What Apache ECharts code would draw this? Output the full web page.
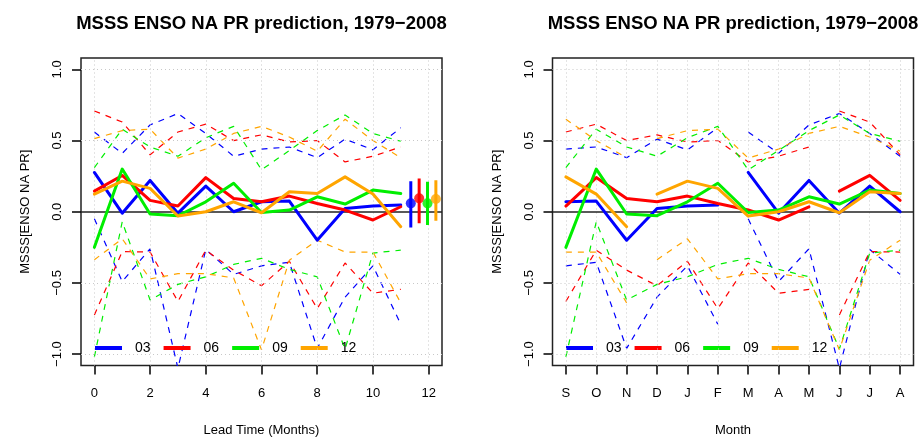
<!DOCTYPE html>
<html>
<head>
<meta charset="utf-8">
<script src="https://cdn.jsdelivr.net/npm/echarts@6/dist/echarts.min.js"></script>
<style>
html, body { margin: 0; padding: 0; background: #ffffff; }
#chart { width: 922px; height: 438px; }
</style>
</head>
<body>
<div id="chart"></div>
<script>
// Forecast lead times (months) and target months (Sep..Aug)
const leads = [0, 1, 2, 3, 4, 5, 6, 7, 8, 9, 10, 11];
const monthLabels = ['S', 'O', 'N', 'D', 'J', 'F', 'M', 'A', 'M', 'J', 'J', 'A'];
const monthPositions = [1, 2, 3, 4, 5, 6, 7, 8, 9, 10, 11, 12];
const leadTicks = [0, 2, 4, 6, 8, 10, 12];
const yTicks = [-1, -0.5, 0, 0.5, 1];

// Forecast start months and where lead 0 falls on the Sep..Aug axis
const startNames = ['03', '06', '09', '12'];
const startPositions = [7, 10, 1, 4];

// MSSS by lead time for each start month
const msss03 = [0.276, -0.01, 0.22, -0.01, 0.18, 0.0, 0.07, 0.075, -0.2, 0.023, 0.04, 0.047];
const msss06 = [0.145, 0.255, 0.08, 0.04, 0.24, 0.093, 0.07, 0.11, 0.058, 0.012, -0.058, 0.035];
const msss09 = [-0.25, 0.3, -0.016, -0.028, 0.07, 0.2, -0.005, 0.012, 0.105, 0.054, 0.152, 0.128];
const msss12 = [0.124, 0.215, 0.164, -0.03, 0.0, 0.07, -0.007, 0.14, 0.128, 0.245, 0.124, -0.105];

// Upper confidence bounds
const upper03 = [0.56, 0.41, 0.61, 0.69, 0.55, 0.39, 0.44, 0.455, 0.38, 0.51, 0.435, 0.59];
const upper06 = [0.708, 0.63, 0.40, 0.56, 0.615, 0.50, 0.54, 0.49, 0.50, 0.35, 0.39, 0.455];
const upper09 = [0.31, 0.58, 0.455, 0.39, 0.52, 0.60, 0.295, 0.43, 0.57, 0.68, 0.55, 0.495];
const upper12 = [0.514, 0.57, 0.58, 0.377, 0.44, 0.55, 0.60, 0.525, 0.425, 0.65, 0.50, 0.38];

// Lower confidence bounds
const lower03 = [-0.05, -0.49, -0.26, -1.1, -0.265, -0.44, -0.38, -0.355, -0.96, -0.6, -0.38, -0.79];
const lower06 = [-0.725, -0.28, -0.283, -0.63, -0.27, -0.41, -0.52, -0.348, -0.68, -0.36, -0.572, -0.545];
const lower09 = [-1.02, -0.07, -0.62, -0.51, -0.457, -0.37, -0.327, -0.405, -0.457, -0.965, -0.29, -0.27];
const lower12 = [-0.337, -0.19, -0.472, -0.435, -0.435, -0.465, -0.97, -0.34, -0.2, -0.283, -0.283, -0.64];

// Lead-averaged MSSS with its spread, drawn to the right of the lead curves
const summaryX = [11.36, 11.66, 11.96, 12.26];
const summaryMean = [0.059, 0.094, 0.059, 0.089];
const summaryLow = [-0.11, -0.08, -0.093, -0.063];
const summaryHigh = [0.214, 0.234, 0.21, 0.222];

const colors = ['#0000FF', '#FF0000', '#00EE00', '#FFA500'];
const msss = [msss03, msss06, msss09, msss12];
const upper = [upper03, upper06, upper09, upper12];
const lower = [lower03, lower06, lower09, lower12];

const FONT = '"Liberation Sans", Arial, Helvetica, sans-serif';
const TITLE = 'MSSS ENSO NA PR prediction, 1979\u22122008';
const fmtY = v => (v < 0 ? '\u2212' : '') + Math.abs(v).toFixed(1);

function byLead(values) {
  return leads.map(k => [k, values[k]]);
}
// Place lead k at its target month; break the line where the year wraps
function byMonth(values, start) {
  const out = [];
  leads.forEach(k => {
    const pos = ((start - 1 + k) % 12) + 1;
    if (k > 0 && pos === 1) out.push(['-', '-']);
    out.push([pos, values[k]]);
  });
  return out;
}

const series = [];
[0, 1].forEach(g => {
  // reference grid and zero line
  const gridLines = yTicks.filter(v => v !== 0).map(v => ({ yAxis: v }))
    .concat((g === 0 ? leadTicks : monthPositions).map(v => ({ xAxis: v })));
  series.push({
    type: 'line', name: 'grid' + g, xAxisIndex: g, yAxisIndex: g, data: [],
    silent: true, z: 1,
    markLine: {
      silent: true, symbol: 'none', label: { show: false }, animation: false,
      lineStyle: { color: '#c8c8c8', width: 1, type: [1, 3] },
      data: gridLines
    }
  });
  series.push({
    type: 'line', name: 'zero' + g, xAxisIndex: g, yAxisIndex: g, data: [],
    silent: true, z: 2,
    markLine: {
      silent: true, symbol: 'none', label: { show: false }, animation: false,
      lineStyle: { color: '#222', width: 1.5, type: 'solid' },
      data: [{ yAxis: 0 }]
    }
  });
  const place = g === 0 ? (v => byLead(v)) : ((v, s) => byMonth(v, s));
  // confidence bounds
  startNames.forEach((nm, i) => {
    [upper[i], lower[i]].forEach((vals, j) => {
      series.push({
        type: 'line', name: nm + (j === 0 ? ' upper' : ' lower'),
        xAxisIndex: g, yAxisIndex: g, z: 3,
        data: place(vals, startPositions[i]),
        symbol: 'none', color: colors[i],
        lineStyle: { color: colors[i], width: 1.2, type: [6, 6] }
      });
    });
  });
  // MSSS curves
  startNames.forEach((nm, i) => {
    series.push({
      type: 'line', name: nm, xAxisIndex: g, yAxisIndex: g, z: 5,
      data: place(msss[i], startPositions[i]),
      symbol: 'none', color: colors[i],
      lineStyle: { color: colors[i], width: 3, cap: 'round', join: 'round' }
    });
  });
});

// lead-averaged summary bars on the left panel
startNames.forEach((nm, i) => {
  series.push({
    type: 'line', name: nm + ' range', xAxisIndex: 0, yAxisIndex: 0, z: 6,
    data: [[summaryX[i], summaryLow[i]], [summaryX[i], summaryHigh[i]]],
    symbol: 'none', color: colors[i],
    lineStyle: { color: colors[i], width: 3 }
  });
  series.push({
    type: 'scatter', name: nm + ' mean', xAxisIndex: 0, yAxisIndex: 0, z: 7,
    data: [[summaryX[i], summaryMean[i]]],
    symbol: 'circle', symbolSize: 10, itemStyle: { color: colors[i] }
  });
});

function xAxisDef(g) {
  const ticks = g === 0 ? leadTicks : monthPositions;
  return {
    type: 'value', gridIndex: g, position: 'bottom',
    min: g === 0 ? -0.48 : 0.56, max: g === 0 ? 12.48 : 12.44,
    axisLine: { show: false, onZero: false },
    axisTick: { show: true, inside: false, length: 9, customValues: ticks,
                lineStyle: { color: '#000', width: 1.5 } },
    axisLabel: { customValues: ticks, margin: 21, fontSize: 13, color: '#000', fontFamily: FONT,
                 formatter: g === 0 ? (v => String(v)) : (v => monthLabels[Math.round(v) - 1]) },
    splitLine: { show: false },
    name: g === 0 ? 'Lead Time (Months)' : 'Month',
    nameLocation: 'middle', nameGap: 58,
    nameTextStyle: { fontSize: 13, color: '#000', fontFamily: FONT }
  };
}
function yAxisDef(g) {
  return {
    type: 'value', gridIndex: g, min: -1.08, max: 1.08, position: 'left',
    axisLine: { show: false, onZero: false },
    axisTick: { show: true, inside: false, length: 9, customValues: yTicks,
                lineStyle: { color: '#000', width: 1.5 } },
    axisLabel: { customValues: yTicks, rotate: 90, margin: 17, fontSize: 13, color: '#000',
                 fontFamily: FONT, formatter: fmtY },
    splitLine: { show: false },
    name: 'MSSS[ENSO NA PR]', nameLocation: 'middle', nameGap: 49, nameRotate: 90,
    nameTextStyle: { fontSize: 13, color: '#000', fontFamily: FONT }
  };
}
function legendDef(left) {
  return {
    data: startNames, left: left, top: 341, padding: 0, itemGap: 13,
    orient: 'horizontal', icon: 'rect', itemWidth: 27, itemHeight: 4,
    selectedMode: false,
    textStyle: { fontSize: 14, color: '#000', fontFamily: FONT, padding: [0, 0, 0, 8] }
  };
}

const gridBase = {
  top: 58, width: 361, height: 307.5, show: true, borderColor: '#222', borderWidth: 1.5,
  backgroundColor: 'transparent', containLabel: false, outerBoundsMode: 'none'
};

const chart = echarts.init(document.getElementById('chart'), null, { renderer: 'canvas' });
chart.setOption({
  animation: false,
  backgroundColor: '#ffffff',
  textStyle: { fontFamily: FONT },
  title: [
    { text: TITLE, left: 261.5, top: 14, textAlign: 'center', padding: 0,
      textStyle: { fontSize: 18.5, fontWeight: 'bold', color: '#000', fontFamily: FONT } },
    { text: TITLE, left: 733, top: 14, textAlign: 'center', padding: 0,
      textStyle: { fontSize: 18.5, fontWeight: 'bold', color: '#000', fontFamily: FONT } }
  ],
  grid: [
    Object.assign({ left: 81 }, gridBase),
    Object.assign({ left: 552.5 }, gridBase)
  ],
  legend: [legendDef(95), legendDef(566)],
  xAxis: [xAxisDef(0), xAxisDef(1)],
  yAxis: [yAxisDef(0), yAxisDef(1)],
  series: series
});
</script>
</body>
</html>
